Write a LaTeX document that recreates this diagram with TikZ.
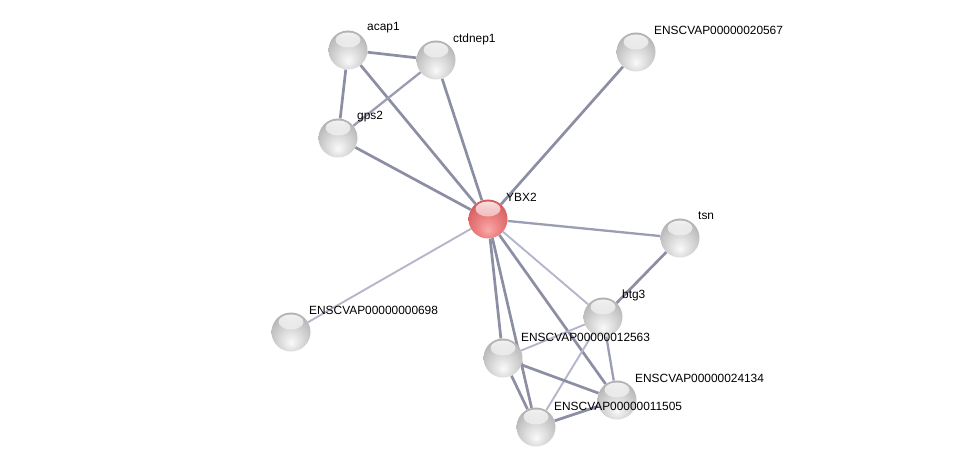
\documentclass[tikz,border=0pt]{standalone}
\usepackage{fontspec}
\setmainfont{Liberation Sans}
\usetikzlibrary{backgrounds,fadings,calc}
\pgfdeclareradialshading{sphgray}{\pgfpoint{0bp}{-14bp}}{%
  color(0bp)=(white!96!gray);
  color(14bp)=(black!14);
  color(30bp)=(black!28);
  color(44bp)=(black!42);
  color(56bp)=(black!58);
  color(70bp)=(black!62)}
\pgfdeclareradialshading{sphred}{\pgfpoint{0bp}{-14bp}}{%
  color(0bp)=(rgb,255:red,250;green,170;blue,170);
  color(14bp)=(rgb,255:red,236;green,130;blue,130);
  color(30bp)=(rgb,255:red,214;green,96;blue,98);
  color(44bp)=(rgb,255:red,184;green,66;blue,70);
  color(56bp)=(rgb,255:red,140;green,40;blue,44);
  color(70bp)=(rgb,255:red,120;green,30;blue,34)}
\definecolor{edark}{RGB}{140,142,164}
\definecolor{emed}{RGB}{155,157,179}
\definecolor{elight}{RGB}{180,182,202}
\tikzset{
  ball/.style={circle, minimum size=39pt, inner sep=0pt, shading=sphgray,
    path picture={\fill[white,opacity=0.85,path fading=south]
      ($(path picture bounding box.center)+(0,-10)$) ellipse (12.5 and 7.5);}},
  redball/.style={ball, shading=sphred},
  lbl/.style={anchor=west, inner sep=0pt, font=\fontsize{11.9}{13}\selectfont},
  dk/.style={draw=edark, line width=2.7pt},
  md/.style={draw=emed, line width=2.3pt},
  lt/.style={draw=elight, line width=1.9pt}
}
\begin{document}
\begin{tikzpicture}[x=1pt,y=-1pt]
\useasboundingbox (0,0) rectangle (975,473);
% nodes
\node[ball] (acap1) at (348,50) {};
\node[ball] (ctdnep1) at (436,60) {};
\node[ball] (e20567) at (636,52) {};
\node[ball] (gps2) at (338,138) {};
\node[redball] (ybx2) at (488,219) {};
\node[ball] (tsn) at (680,238) {};
\node[ball] (btg3) at (603,317) {};
\node[ball] (e698) at (291,332) {};
\node[ball] (e12563) at (503,358) {};
\node[ball] (e24134) at (617,400) {};
\node[ball] (e11505) at (536,427) {};
% edges
\begin{scope}[on background layer]
\draw[dk] (acap1) -- (ctdnep1);
\draw[dk] (acap1) -- (gps2);
\draw[dk] (acap1) -- (ybx2);
\draw[md] (ctdnep1) -- (gps2);
\draw[dk] (ctdnep1) -- (ybx2);
\draw[dk] (gps2) -- (ybx2);
\draw[dk] (e20567) -- (ybx2);
\draw[md] (ybx2) -- (tsn);
\draw[lt] (ybx2) -- (e698);
\draw[lt] (ybx2) -- (btg3);
\draw[dk] (ybx2) -- (e12563);
\draw[dk] (ybx2) -- (e11505);
\draw[dk] (ybx2) -- (e24134);
\draw[dk] (tsn) -- (btg3);
\draw[lt] (btg3) -- (e12563);
\draw[md] (btg3) -- (e24134);
\draw[lt] (btg3) -- (e11505);
\draw[dk] (e12563) -- (e24134);
\draw[dk] (e12563) -- (e11505);
\draw[dk] (e11505) -- (e24134);
\end{scope}
% labels
\node[lbl] (lacap1) at (367,28) {acap1};
\node[lbl] (lctdnep1) at (453,39) {ctdnep1};
\node[lbl] (l20567) at (654,30) {ENSCVAP00000020567};
\node[lbl] (lgps2) at (357,117) {gps2};
\node[lbl] (lybx2) at (506,197) {YBX2};
\node[lbl] (ltsn) at (698,216) {tsn};
\node[lbl] (lbtg3) at (622,295) {btg3};
\node[lbl] (l698) at (309,310) {ENSCVAP00000000698};
\node[lbl] (l12563) at (521,337) {ENSCVAP00000012563};
\node[lbl] (l24134) at (635,378) {ENSCVAP00000024134};
\node[lbl] (l11505) at (554,406) {ENSCVAP00000011505};
\end{tikzpicture}
\end{document}
